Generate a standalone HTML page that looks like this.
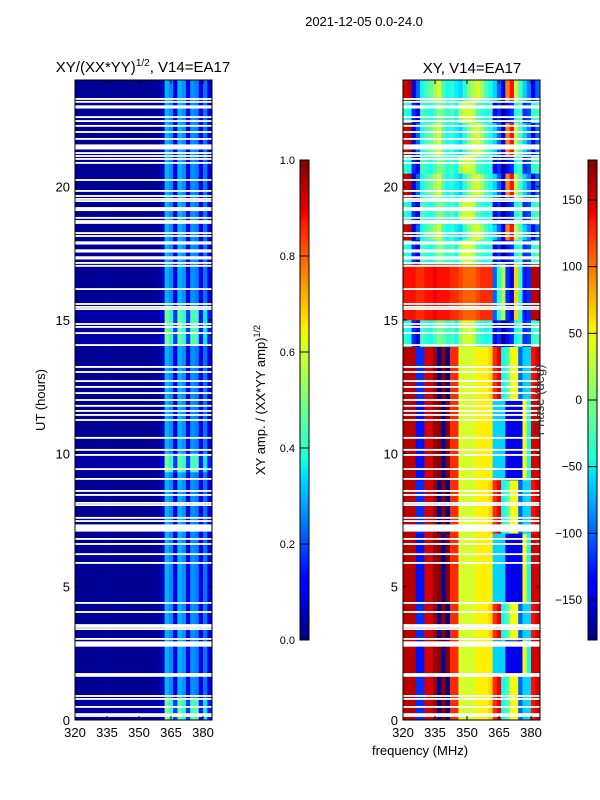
<!DOCTYPE html>
<html><head><meta charset="utf-8"><style>
body{margin:0;background:#fff;}
svg{display:block;font-family:"Liberation Sans","DejaVu Sans",sans-serif;}
</style></head><body>
<svg id="fig" width="600" height="800" viewBox="0 0 600 800">
<defs>
<linearGradient id="jet" x1="0" y1="1" x2="0" y2="0">
<stop offset="0" stop-color="#00007f"/><stop offset="0.11" stop-color="#0000ff"/><stop offset="0.125" stop-color="#0000ff"/>
<stop offset="0.34" stop-color="#00dcff"/><stop offset="0.375" stop-color="#18ffdd"/><stop offset="0.5" stop-color="#7dff7a"/>
<stop offset="0.625" stop-color="#e4ff13"/><stop offset="0.66" stop-color="#ffe600"/><stop offset="0.875" stop-color="#ff1500"/>
<stop offset="0.89" stop-color="#ee0000"/><stop offset="1" stop-color="#7f0000"/></linearGradient>
</defs>
<text x="364" y="26" font-size="13" text-anchor="middle">2021-12-05 0.0-24.0</text>
<text x="143" y="72" font-size="15" text-anchor="middle">XY/(XX*YY)<tspan font-size="10" dy="-6">1/2</tspan><tspan dy="6">, V14=EA17</tspan></text>
<text x="472" y="73" font-size="15" text-anchor="middle">XY, V14=EA17</text>
<g id="left"></g>
<g id="right"></g>
<g id="axes"></g>
<text transform="translate(45,400) rotate(-90)" font-size="13" text-anchor="middle">UT (hours)</text>
<text transform="translate(265,400) rotate(-90)" font-size="13" text-anchor="middle">XY amp. / (XX*YY amp)<tspan font-size="9" dy="-5">1/2</tspan></text>
<text transform="translate(544,400) rotate(-90)" font-size="13" text-anchor="middle" fill="#333">Phase (deg)</text>
<text x="420" y="755" font-size="13" text-anchor="middle">frequency (MHz)</text>
<rect x="300" y="160" width="9" height="480" fill="url(#jet)" stroke="#000" stroke-width="1"/>
<rect x="588" y="160" width="9" height="480" fill="url(#jet)" stroke="#000" stroke-width="1"/>
<g id="cbticks"></g>
</svg>
<script>
// frequency channels: 32 channels of 2 MHz from 320 MHz
const freqStart = 320, chanWidth = 2, nChan = 32;
// amplitude column profiles (per channel)
const ampProfile0 = [0.02,0.02,0.02,0.02,0.02,0.02,0.02,0.03,0.02,0.02,0.02,0.02,0.02,0.02,0.02,0.02,0.02,0.02,0.02,0.03,0.06,0.3,0.26,0.1,0.3,0.27,0.1,0.27,0.25,0.1,0.24,0.1];
const ampProfile1 = [0.04,0.04,0.04,0.04,0.04,0.04,0.04,0.04,0.04,0.04,0.04,0.04,0.04,0.04,0.04,0.04,0.04,0.04,0.04,0.04,0.1,0.5,0.42,0.18,0.48,0.42,0.18,0.45,0.45,0.14,0.36,0.15];
// segments: [startHour, endHour, profileIndex]
const ampSegments = [[0,0.8,1],[0.8,9.3,0],[9.3,10,1],[10,14.1,0],[14.1,15.4,1],[15.4,24,0]];
// phase column profiles (deg)
const phaseProfileA = [160,160,160,-130,-130,150,150,170,175,-170,175,120,120,30,30,30,30,50,50,50,50,-60,-60,-60,-140,-140,-140,-140,40,-40,150,150];
const phaseProfileA2 = [160,160,160,-120,-120,150,150,170,-170,175,-175,120,120,30,30,30,30,50,50,50,60,120,140,-40,-20,40,40,-100,-60,-60,130,150];
const phaseProfileB = [130,130,130,120,120,130,130,140,130,130,130,120,120,110,100,100,100,110,120,120,120,-100,-30,20,-120,-150,60,-30,-130,-120,160,160];
const phaseProfileC = [-30,-40,-120,-140,-20,-30,-40,-20,0,-10,-30,-20,-40,10,30,30,20,-20,-30,-40,-30,-140,-120,-170,-130,-120,-40,-20,-120,-110,-30,-20];
const phaseProfileC2 = [150,160,-150,-100,-40,-20,-10,10,30,-20,-40,-30,-50,-60,-30,0,20,30,10,-20,-40,-60,-100,-140,90,130,20,-20,-60,-90,-140,-100];
const phaseProfiles = [phaseProfileA, phaseProfileA2, phaseProfileB, phaseProfileC, phaseProfileC2];
const phaseSegments = [[0,1.7,1],[1.7,3,0],[3,4.4,1],[4.4,7,0],[7,9,1],[9,12,0],[12,14,1],[14,15,3],[15,17.1,2],[17.1,18,3],[18,18.6,4],[18.6,19.6,3],[19.6,20.5,4],[20.5,21.2,3],[21.2,22.4,4],[22.4,23.2,3],[23.2,24,4]];
// flagged times (hours) and widths (hours)
const flagHours = [0.15,0.22,0.49,0.79,0.9,1.69,2.85,3.04,3.41,3.49,3.56,4.05,4.39,5.89,6.22,6.6,6.79,7.2,7.46,7.58,8.06,8.14,8.44,8.59,9.04,9.41,9.94,10.13,10.58,11.25,11.44,11.59,11.78,12.0,12.26,12.49,12.71,13.05,13.24,14.06,14.51,14.74,14.85,15.41,15.49,15.6,16.16,17.03,17.14,17.33,17.59,17.89,18.15,18.26,18.64,18.71,18.83,19.16,19.46,19.54,19.65,19.84,20.25,20.89,21.04,21.15,21.26,21.49,21.79,22.05,22.28,22.46,22.61,22.99,23.18,23.29];
const flagWidths = [0.07,0.07,0.07,0.07,0.07,0.14,0.2,0.07,0.07,0.07,0.07,0.07,0.07,0.07,0.07,0.07,0.07,0.27,0.07,0.07,0.07,0.07,0.07,0.07,0.07,0.07,0.07,0.07,0.07,0.07,0.07,0.07,0.07,0.07,0.07,0.07,0.07,0.07,0.07,0.07,0.07,0.07,0.07,0.07,0.07,0.07,0.07,0.07,0.07,0.12,0.12,0.12,0.07,0.07,0.07,0.07,0.07,0.15,0.07,0.07,0.07,0.07,0.07,0.07,0.07,0.07,0.07,0.19,0.07,0.07,0.07,0.07,0.07,0.12,0.07,0.07];
const xTicks = [320,335,350,365,380];
const yTicks = [0,5,10,15,20];
const ampTicks = [0,0.2,0.4,0.6,0.8,1.0];
const phaseTicks = [-150,-100,-50,0,50,100,150];

const NS="http://www.w3.org/2000/svg";
const panels = [{x0:75,g:'left'},{x0:403,g:'right'}];
const pxPerMHz = 128/60, pxPerHour = 640/24, yBottom = 720, panelW = 137;
function xScale(p, f){return p.x0 + (f-freqStart)*pxPerMHz;}
function yScale(h){return yBottom - h*pxPerHour;}
function jet(v){const c=t=>Math.round(255*Math.max(0,Math.min(1,t)));return `rgb(${c(1.5-Math.abs(4*v-3))},${c(1.5-Math.abs(4*v-2))},${c(1.5-Math.abs(4*v-1))})`;}
function mk(tag,attrs,parent){const e=document.createElementNS(NS,tag);for(const k in attrs)e.setAttribute(k,attrs[k]);parent.appendChild(e);return e;}

function drawHeat(p, segments, getVal){
  const g=document.getElementById(p.g);
  segments.forEach(s=>{
    for(let c=0;c<nChan;c++){
      const f0=freqStart+c*chanWidth, x=xScale(p,f0), w=xScale(p,f0+chanWidth)-x+0.5;
      const r=mk('rect',{x:x,y:yScale(s[1]),width:Math.min(w,p.x0+panelW-x),height:yScale(s[0])-yScale(s[1])+0.3,fill:jet(getVal(s,c))},g);
      
      
    }
  });
  flagHours.forEach((h,i)=>{
    const r=mk('rect',{x:p.x0,y:yScale(h)-flagWidths[i]*pxPerHour/2,width:panelW,height:flagWidths[i]*pxPerHour,fill:'#fff'},g);
    
    
  });
}
drawHeat(panels[0], ampSegments, (s,c)=>(s[2]?ampProfile1:ampProfile0)[c]);
drawHeat(panels[1], phaseSegments, (s,c)=>(phaseProfiles[s[2]][c]+180)/360);

const ax=document.getElementById('axes');
panels.forEach(p=>{
  const fr=mk('rect',{x:p.x0,y:80,width:panelW,height:640,fill:'none',stroke:'#000','stroke-width':1},ax);
  
  
  xTicks.forEach(t=>{
    const x=xScale(p,t);
    mk('line',{x1:x,x2:x,y1:720,y2:716,stroke:'#000'},ax);
    mk('line',{x1:x,x2:x,y1:80,y2:84,stroke:'#000'},ax);
    const tx=mk('text',{x:x,y:737,'font-size':13,'text-anchor':'middle'},ax);tx.textContent=t;
    
    
  });
  yTicks.forEach(t=>{
    const y=yScale(t);
    mk('line',{x1:p.x0,x2:p.x0+4,y1:y,y2:y,stroke:'#000'},ax);
    mk('line',{x1:p.x0+panelW,x2:p.x0+panelW-4,y1:y,y2:y,stroke:'#000'},ax);
    const tx=mk('text',{x:p.x0-5,y:y+5,'font-size':13,'text-anchor':'end'},ax);tx.textContent=t;
    
    
  });
});
const cb=document.getElementById('cbticks');
ampTicks.forEach(t=>{
  const y=640-t*480;
  mk('line',{x1:300,x2:309,y1:y,y2:y,stroke:'#000'},cb);
  const tx=mk('text',{x:295,y:y+4,'font-size':11,'text-anchor':'end'},cb);tx.textContent=t.toFixed(1);
  
  
});
phaseTicks.forEach(t=>{
  const y=640-(t+180)/360*480;
  mk('line',{x1:588,x2:597,y1:y,y2:y,stroke:'#000'},cb);
  const tx=mk('text',{x:582,y:y+4,'font-size':12,'text-anchor':'end'},cb);tx.textContent=t<0?'\u2212'+(-t):t;
  
  
});
</script>
</body></html>
